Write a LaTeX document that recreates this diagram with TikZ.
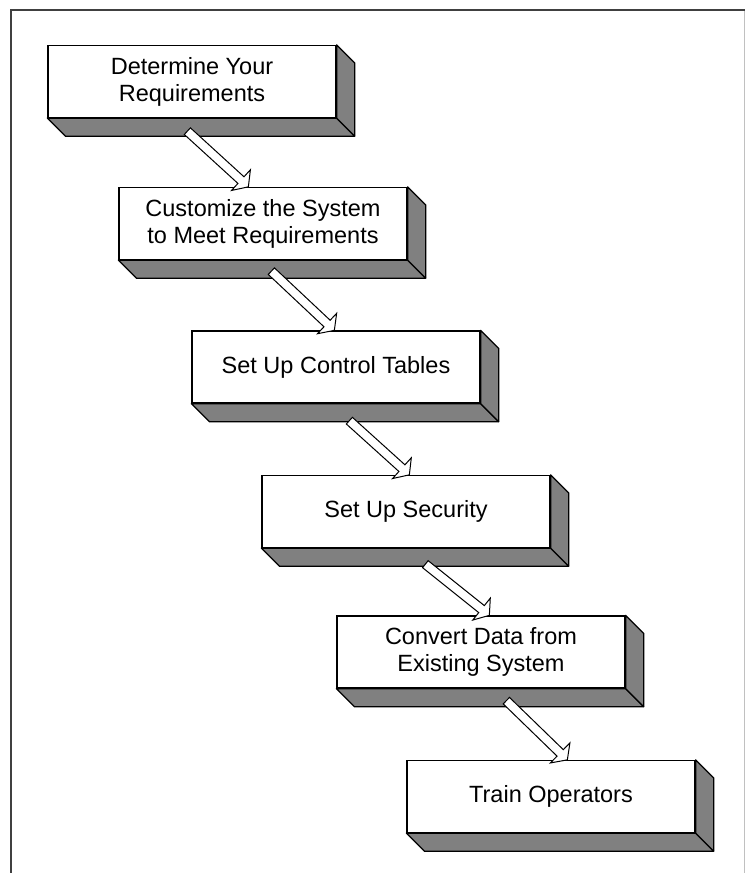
\documentclass[tikz,border=0pt]{standalone}
\usepackage{fontspec}
\setmainfont{Liberation Sans}
\usetikzlibrary{calc}
\definecolor{facegray}{HTML}{808080}
\definecolor{framedark}{HTML}{404040}
\definecolor{framelight}{HTML}{C0C0C0}
\tikzset{
  stepbox/.style={draw=black, line width=1.3pt, fill=white, rectangle,
    minimum width=288pt, minimum height=72pt, inner sep=0pt, align=center,
    font=\fontsize{23.5}{27}\selectfont},
  sideface/.style={draw=black, line width=1.3pt, fill=facegray, line join=round},
  hollowarrow/.style={draw=black, line width=1pt, fill=white, line join=miter},
}
\newcommand{\extrude}[1]{%
  \draw[sideface] (#1.south west) -- (#1.south east) -- ++(18,18) -- ($(#1.south west)+(18,18)$) -- cycle;
  \draw[sideface] (#1.north east) -- ++(18,18) -- ($(#1.south east)+(18,18)$) -- (#1.south east) -- cycle;
}
\newcommand{\blockarrow}[2]{%
  \draw[hollowarrow]
    ($(#1)!4.5pt!90:(#2)$) --
    ($($(#2)!10pt!(#1)$)!4.5pt!90:(#2)$) --
    ($($(#2)!10pt!(#1)$)!14pt!90:(#2)$) --
    (#2) --
    ($($(#2)!10pt!(#1)$)!14pt!-90:(#2)$) --
    ($($(#2)!10pt!(#1)$)!4.5pt!-90:(#2)$) --
    ($(#1)!4.5pt!-90:(#2)$) -- cycle;
}
\begin{document}
\begin{tikzpicture}[x=1pt,y=-1pt]
\useasboundingbox (0,0) rectangle (746,873);
\fill[white] (0,0) rectangle (746,873);
% frame
\coordinate (fbl) at (11,873);
\coordinate (ftl) at (11,9.5);
\coordinate (ftr) at (744.5,9.5);
\coordinate (fbr) at (744.5,873);
\draw[framelight, line width=1.2pt] (ftr) -- (fbr);
\draw[framedark, line width=2pt] (fbl) -- (ftl) -- (ftr);
% boxes
\node[stepbox] (b1) at (192,81.5) {Determine Your\\Requirements};
\node[stepbox] (b2) at (263,223.5) {Customize the System\\to Meet Requirements};
\node[stepbox] (b3) at (336,367) {Set Up Control Tables};
\node[stepbox] (b4) at (406,511.5) {Set Up Security};
\node[stepbox] (b5) at (481,652) {Convert Data from\\Existing System};
\node[stepbox] (b6) at (551,796.5) {Train Operators};
\extrude{b1}
\extrude{b2}
\extrude{b3}
\extrude{b4}
\extrude{b5}
\extrude{b6}
% arrow anchor points
\coordinate (t1) at ($(b1.south west)+(140,13)$);
\coordinate (h1) at ($(b2.north west)+(130,0)$);
\coordinate (t2) at ($(b2.south west)+(153,11)$);
\coordinate (h2) at ($(b3.north west)+(143,0)$);
\coordinate (t3) at ($(b3.south west)+(158,17)$);
\coordinate (h3) at ($(b4.north west)+(148,0)$);
\coordinate (t4) at ($(b4.south west)+(164,16)$);
\coordinate (h4) at ($(b5.north west)+(153,0)$);
\coordinate (t5) at ($(b5.south west)+(170,12)$);
\coordinate (h5) at ($(b6.north west)+(161,0)$);
\blockarrow{t1}{h1}
\blockarrow{t2}{h2}
\blockarrow{t3}{h3}
\blockarrow{t4}{h4}
\blockarrow{t5}{h5}
\end{tikzpicture}
\end{document}
